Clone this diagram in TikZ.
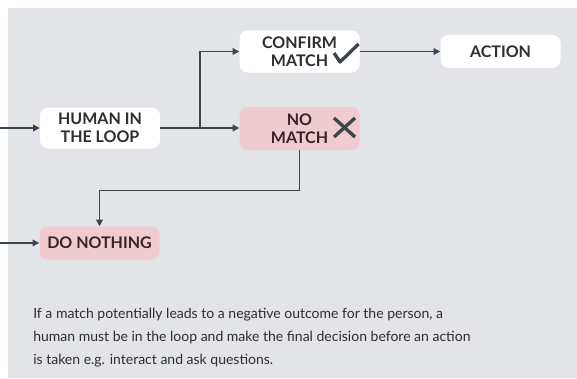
\documentclass[tikz,border=0pt]{standalone}
\usepackage{fontspec}
\setmainfont{Lato}
\usetikzlibrary{arrows.meta}

\definecolor{panelgray}{RGB}{226,228,232}
\definecolor{boxpink}{RGB}{240,204,209}
\definecolor{linegray}{RGB}{58,69,80}
\definecolor{textdark}{RGB}{45,45,50}

\tikzset{
    box/.style={rounded corners=6pt, fill=white, text=textdark,
        align=center, minimum width=90pt, inner sep=0pt,
        font=\fontsize{12}{13.8}\selectfont\bfseries},
    pinkbox/.style={box, fill=boxpink, text={rgb,255:red,58;green,34;blue,41}},
    flow/.style={draw=linegray, line width=1.1pt,
        -{Triangle[length=5pt,width=5pt]}},
    signmark/.style={draw=linegray, line width=2.5pt}
}

\begin{document}
\begin{tikzpicture}[x=0.75pt,y=-0.75pt]
                \useasboundingbox (0,0) rectangle (577,378);
                \fill[panelgray] (8,8) rectangle (577,378);

                \node[box, minimum height=30.75pt] (human) at (100,128)
                    {HUMAN IN\\THE LOOP};
                \node[box, minimum height=31.5pt] (confirm) at (299.5,51.5)
                    {CONFIRM\\MATCH};
                \node[box, minimum height=24.75pt] (action) at (500.5,51.5)
                    {ACTION};
                \node[pinkbox, minimum height=32.25pt] (nomatch) at (299.5,128.5)
                    {NO\\MATCH};
                \node[pinkbox, minimum height=24.75pt] (nothing) at (99.5,243)
                    {DO NOTHING};

                \coordinate (inhuman) at (0,128);
                \coordinate (innothing) at (0,243);
                \coordinate (split) at (200,128);

                \draw[flow] (inhuman) -- (human);
                \draw[flow] (innothing) -- (nothing);
                \draw[draw=linegray, line width=1.1pt] (human.east) -- (split);
                \draw[flow] (split) |- (confirm.west);
                \draw[flow] (split) -- (split -| nomatch.west);
                \draw[flow] (confirm) -- (action);
                \draw[flow] (nomatch.south) -- ++(0,40) -| (nothing.north);

                % tick and cross
                \draw[signmark, line join=round] (334,53) -- (340,62) -- (358.5,44);
                \draw[signmark] (334,118) -- (355,137);
                \draw[signmark] (355,118) -- (334,137);

                \node[anchor=north west, align=left, inner sep=0pt,
                    text=textdark, font=\fontsize{10.5}{17.25}\selectfont]
                    (note) at (33,308)
                    {If a match potentially leads to a negative outcome for the person, a\\
                     human must be in the loop and make the final decision before an action\\
                     is taken e.g. interact and ask questions.};
\end{tikzpicture}
\end{document}
